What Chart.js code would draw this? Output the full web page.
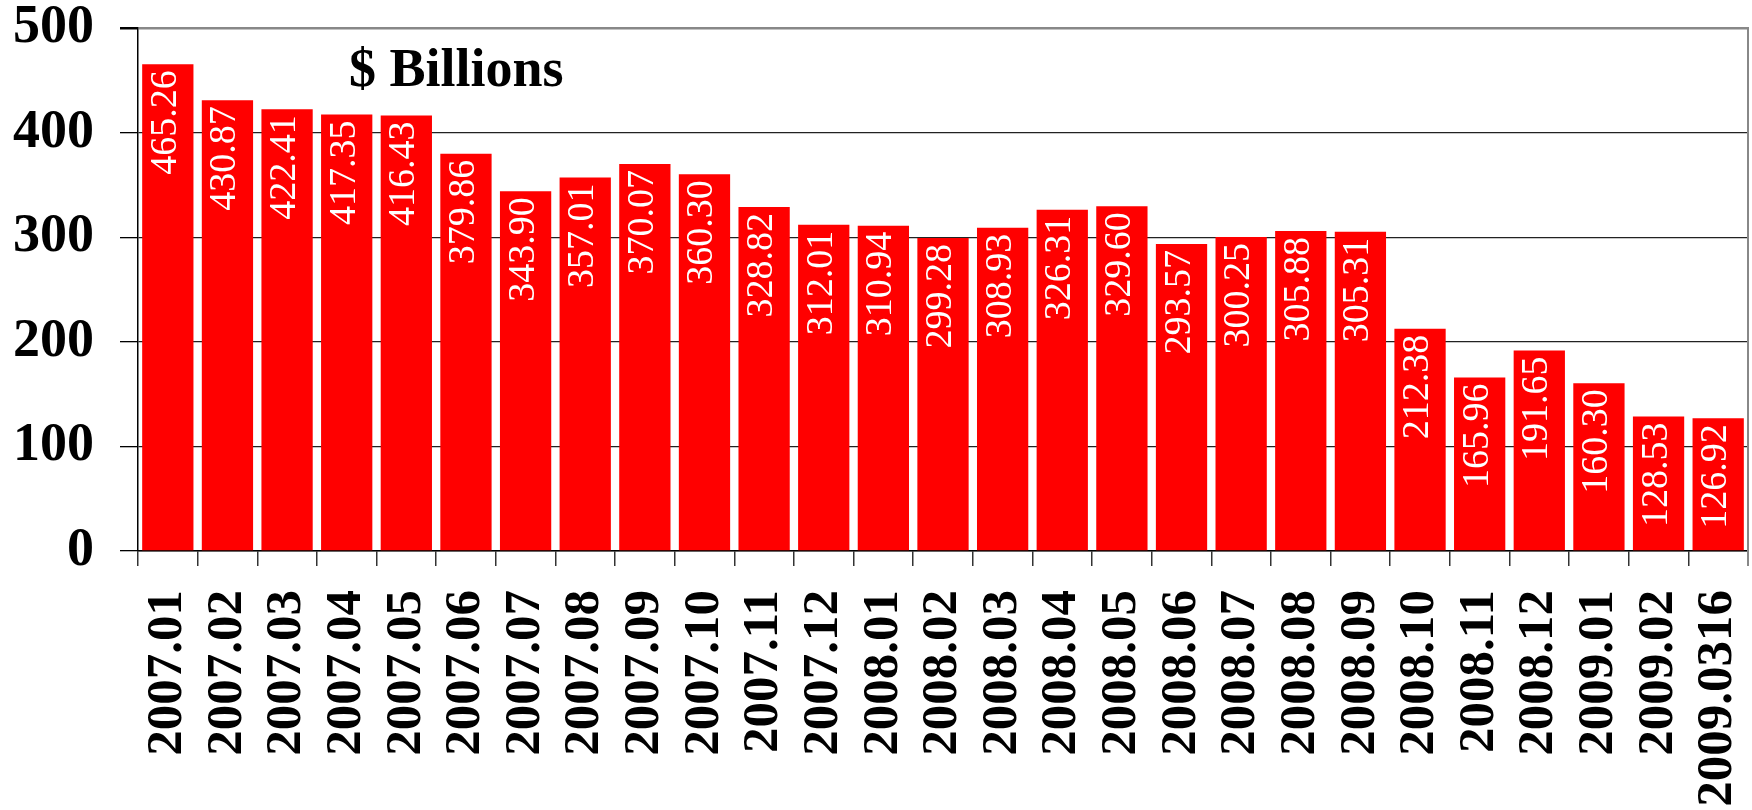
<!DOCTYPE html>
<html>
<head>
<meta charset="utf-8">
<script src="https://cdn.jsdelivr.net/npm/chart.js@4/dist/chart.umd.min.js"></script>
<style>
  html, body { margin: 0; padding: 0; background: #fff; }
  #wrap { width: 1752px; height: 810px; }
</style>
</head>
<body>
<div id="wrap"><canvas id="chart" width="1752" height="810"></canvas></div>
<script>
  'use strict';

  var MONTHS = [
    '2007.01', '2007.02', '2007.03', '2007.04', '2007.05', '2007.06',
    '2007.07', '2007.08', '2007.09', '2007.10', '2007.11', '2007.12',
    '2008.01', '2008.02', '2008.03', '2008.04', '2008.05', '2008.06',
    '2008.07', '2008.08', '2008.09', '2008.10', '2008.11', '2008.12',
    '2009.01', '2009.02', '2009.0316'
  ];

  var VALUES = [
    465.26, 430.87, 422.41, 417.35, 416.43, 379.86,
    343.90, 357.01, 370.07, 360.30, 328.82, 312.01,
    310.94, 299.28, 308.93, 326.31, 329.60, 293.57,
    300.25, 305.88, 305.31, 212.38, 165.96, 191.65,
    160.30, 128.53, 126.92
  ];

  var UNIT_LABEL = '$ Billions';
  var SERIF = '"Liberation Serif", "Times New Roman", serif';

  // white value labels, rotated, hanging from the top of each bar
  var barLabels = {
    id: 'barLabels',
    afterDatasetsDraw: function (chart) {
      var ctx = chart.ctx;
      var meta = chart.getDatasetMeta(0);
      ctx.save();
      ctx.fillStyle = '#fff';
      ctx.font = '38px ' + SERIF;
      ctx.textAlign = 'right';
      ctx.textBaseline = 'middle';
      meta.data.forEach(function (bar, i) {
        ctx.save();
        ctx.translate(bar.x - 2, bar.y + 6);
        ctx.rotate(-Math.PI / 2);
        ctx.fillText(VALUES[i].toFixed(2), 0, 0);
        ctx.restore();
      });
      ctx.restore();
    }
  };

  // gray frame on the right side + the unit caption
  var frame = {
    id: 'frame',
    afterDraw: function (chart) {
      var a = chart.chartArea;
      var ctx = chart.ctx;
      ctx.save();
      ctx.strokeStyle = '#888';
      ctx.lineWidth = 2;
      ctx.beginPath();
      ctx.moveTo(a.right, a.top - 1);
      ctx.lineTo(a.right, a.bottom + 15);
      ctx.stroke();
      ctx.fillStyle = '#000';
      ctx.font = 'bold 54px ' + SERIF;
      ctx.textAlign = 'left';
      ctx.textBaseline = 'alphabetic';
      ctx.fillText(UNIT_LABEL, 349, 86);
      ctx.restore();
    }
  };

  new Chart(document.getElementById('chart'), {
    type: 'bar',
    data: {
      labels: MONTHS,
      datasets: [
        {
          label: UNIT_LABEL,
          data: VALUES,
          backgroundColor: '#ff0000',
          barPercentage: 0.86,
          categoryPercentage: 1,
        },
      ],
    },
    options: {
      responsive: false,
      animation: false,
      layout: { padding: { top: 28, right: 4, left: 0, bottom: 0 } },
      plugins: {
        legend: { display: false },
        tooltip: { enabled: false },
      },
      scales: {
        x: {
          afterFit: function (scale) {
            scale.height = 259;
            scale.paddingLeft = 0;
            scale.paddingRight = 0;
          },
          grid: {
            drawOnChartArea: false,
            drawTicks: true,
            tickLength: 15,
            color: '#333',
            lineWidth: 1.5,
          },
          border: { color: '#000', width: 1.5 },
          ticks: {
            color: '#000',
            font: { family: SERIF, size: 51, weight: 'bold' },
            minRotation: 90,
            maxRotation: 90,
            autoSkip: false,
            padding: 24,
          },
        },
        y: {
          min: 0,
          max: 500,
          afterFit: function (scale) {
            scale.width = 138;
            scale.paddingTop = 0;
            scale.paddingBottom = 0;
          },
          grid: {
            color: function (c) { return c.tick && c.tick.value === 500 ? '#888' : '#222'; },
            lineWidth: function (c) { return c.tick && c.tick.value === 500 ? 2.5 : 1.3; },
            tickColor: '#000',
            tickLength: 18,
          },
          border: { color: '#000', width: 1.5 },
          ticks: {
            stepSize: 100,
            color: '#000',
            font: { family: SERIF, size: 54, weight: 'bold' },
            padding: 26,
          },
        },
      },
    },
    plugins: [barLabels, frame],
  });
</script>
</body>
</html>
